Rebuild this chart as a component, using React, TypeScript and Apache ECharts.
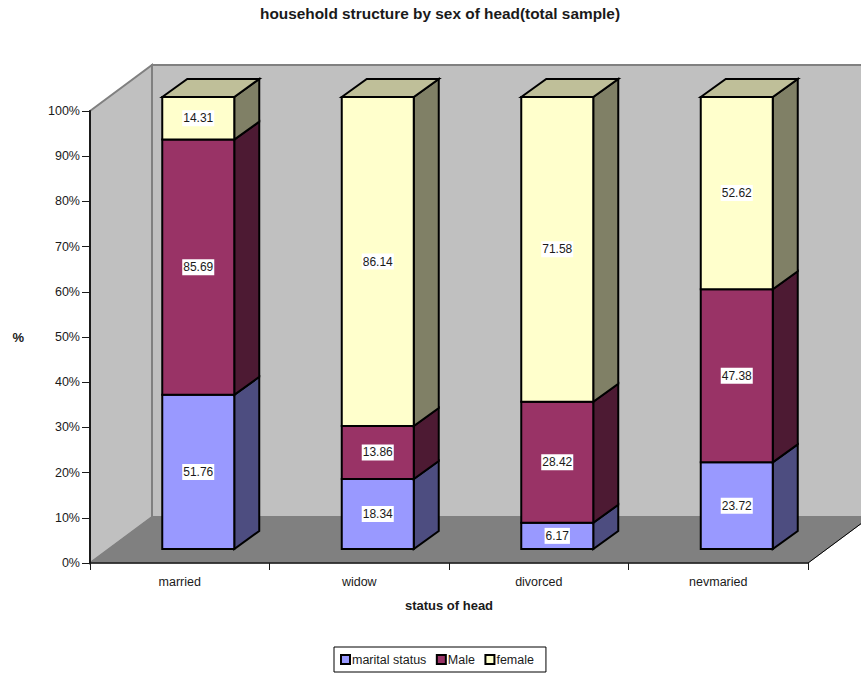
import React, { useEffect, useRef } from "react";
import * as echarts from "echarts";

const categories = ["married", "widow", "divorced", "nevmaried"];
const maritalStatus = [51.76, 18.34, 6.17, 23.72];
const male = [85.69, 13.86, 28.42, 47.38];
const female = [14.31, 86.14, 71.58, 52.62];
const yTicks = [0, 10, 20, 30, 40, 50, 60, 70, 80, 90, 100];

const FONT = "Liberation Sans, Arial, sans-serif";
const INK = "#1a1a1a";
const stacks = [maritalStatus, male, female];
const totals = categories.map((_, i) => stacks.reduce((sum, s) => sum + s[i], 0));

// Each row: category index, lower share, upper share, value as labelled.
function segmentRows(layer: number) {
  return categories.map((_, i) => {
    const below = stacks.slice(0, layer).reduce((sum, s) => sum + s[i], 0);
    return [
      i,
      (below / totals[i]) * 100,
      ((below + stacks[layer][i]) / totals[i]) * 100,
      stacks[layer][i],
    ];
  });
}

// Oblique projection of the chart box and of the columns inside it.
const BOX_DX = 62;
const BOX_DY = -46;
const BAR_SHIFT_X = 18.5;
const BAR_SHIFT_Y = -14;
const BAR_DX = 25;
const BAR_DY = -18;
const BAR_WIDTH = 72;

function renderBox(_params: any, api: any) {
  const band = api.size([1, 0])[0];
  const left = api.coord([0, 0])[0] - band / 2;
  const right = left + band * categories.length;
  const bottom = api.coord([0, 0])[1];
  const top = api.coord([0, 100])[1];
  const wall = { fill: "#c0c0c0", stroke: "#808080", lineWidth: 2 };
  const poly = (points: number[][], style: any) => ({
    type: "polygon",
    shape: { points },
    style,
  });
  return {
    type: "group",
    children: [
      poly(
        [
          [left + BOX_DX, top + BOX_DY],
          [right + BOX_DX, top + BOX_DY],
          [right + BOX_DX, bottom + BOX_DY],
          [left + BOX_DX, bottom + BOX_DY],
        ],
        wall
      ),
      poly(
        [
          [left, top],
          [left + BOX_DX, top + BOX_DY],
          [left + BOX_DX, bottom + BOX_DY],
          [left, bottom],
        ],
        wall
      ),
      poly(
        [
          [left, bottom],
          [left + BOX_DX, bottom + BOX_DY],
          [right + BOX_DX, bottom + BOX_DY],
          [right, bottom],
        ],
        { fill: "#808080", stroke: "#808080", lineWidth: 1 }
      ),
      {
        type: "line",
        shape: { x1: right, y1: bottom, x2: right + BOX_DX, y2: bottom + BOX_DY },
        style: { stroke: "#000", lineWidth: 1 },
      },
    ],
  };
}

function makeRenderer(front: string, side: string, cap: string | null) {
  return (_params: any, api: any) => {
    const cx = api.coord([api.value(0), 0])[0] + BAR_SHIFT_X;
    const y0 = api.coord([0, api.value(1)])[1] + BAR_SHIFT_Y;
    const y1 = api.coord([0, api.value(2)])[1] + BAR_SHIFT_Y;
    const x0 = cx - BAR_WIDTH / 2;
    const x1 = cx + BAR_WIDTH / 2;
    const edge = { stroke: "#000", lineWidth: 2, lineJoin: "miter" };
    const children: any[] = [
      {
        type: "polygon",
        shape: {
          points: [
            [x1, y1],
            [x1 + BAR_DX, y1 + BAR_DY],
            [x1 + BAR_DX, y0 + BAR_DY],
            [x1, y0],
          ],
        },
        style: { fill: side, ...edge },
      },
    ];
    if (cap) {
      children.push({
        type: "polygon",
        shape: {
          points: [
            [x0, y1],
            [x0 + BAR_DX, y1 + BAR_DY],
            [x1 + BAR_DX, y1 + BAR_DY],
            [x1, y1],
          ],
        },
        style: { fill: cap, ...edge },
      });
    }
    children.push({
      type: "rect",
      shape: { x: x0, y: y1, width: BAR_WIDTH, height: y0 - y1 },
      style: { fill: front, ...edge },
    });
    children.push({
      type: "text",
      x: cx,
      y: (y0 + y1) / 2,
      z2: 10,
      style: {
        text: api.value(3).toFixed(2),
        align: "center",
        verticalAlign: "middle",
        font: `12px ${FONT}`,
        fill: INK,
        backgroundColor: "#fff",
        padding: [2, 1, 2, 1],
      },
    });
    return { type: "group", children };
  };
}

const layers = [
  { name: "marital status", front: "#9999ff", side: "#4d4d80", cap: null },
  { name: "Male", front: "#993366", side: "#4d1a33", cap: null },
  { name: "female", front: "#ffffcc", side: "#808066", cap: "#bfbf99" },
];

export default function App() {
  const ref = useRef<HTMLDivElement>(null);

  useEffect(() => {
    const chart = echarts.init(ref.current!, undefined, { renderer: "svg" });
    chart.setOption({
      animation: false,
      backgroundColor: "#fff",
      title: {
        text: "household structure by sex of head(total sample)",
        left: 435,
        top: 1,
        textAlign: "center",
        textStyle: { fontFamily: FONT, fontSize: 15.4, fontWeight: "bold", color: INK },
      },
      grid: { left: 90, top: 111, width: 718, height: 452 },
      xAxis: {
        type: "category",
        data: categories,
        name: "status of head",
        nameLocation: "middle",
        nameGap: 36,
        nameTextStyle: { fontFamily: FONT, fontSize: 13, fontWeight: "bold", color: INK },
        axisLine: { show: true, lineStyle: { color: INK, width: 1.5 } },
        axisTick: { show: true, length: 7, lineStyle: { color: INK, width: 1 } },
        axisLabel: { fontFamily: FONT, fontSize: 12.5, color: INK, margin: 12 },
        splitLine: { show: false },
      },
      yAxis: {
        type: "value",
        min: yTicks[0],
        max: yTicks[yTicks.length - 1],
        interval: 10,
        name: "%",
        nameLocation: "middle",
        nameRotate: 0,
        nameGap: 66,
        nameTextStyle: { fontFamily: FONT, fontSize: 13, fontWeight: "bold", color: INK },
        axisLine: { show: true, lineStyle: { color: INK, width: 2 } },
        axisTick: { show: true, length: 8, lineStyle: { color: INK, width: 1 } },
        axisLabel: {
          fontFamily: FONT,
          fontSize: 12.5,
          color: INK,
          margin: 10,
          formatter: "{value}%",
        },
        splitLine: { show: false },
      },
      legend: {
        left: 334,
        top: 647,
        orient: "horizontal",
        data: layers.map((l) => l.name),
        icon: "rect",
        itemWidth: 9,
        itemHeight: 9,
        itemGap: 9.5,
        padding: [6, 12, 6, 6],
        borderColor: "#000",
        borderWidth: 1,
        backgroundColor: "#fff",
        selectedMode: false,
        itemStyle: { borderColor: "#000", borderWidth: 2 },
        textStyle: { fontFamily: FONT, fontSize: 12.5, color: INK, padding: [0, 0, 0, -3] },
      },
      series: [
        {
          type: "custom",
          name: "box",
          silent: true,
          z: -1,
          coordinateSystem: "cartesian2d",
          data: [[0, 0]],
          renderItem: renderBox,
        },
        ...layers.map((l, layer) => ({
          type: "custom",
          name: l.name,
          z: 2 + layer,
          coordinateSystem: "cartesian2d",
          itemStyle: { color: l.front },
          encode: { x: 0, y: [1, 2] },
          data: segmentRows(layer),
          renderItem: makeRenderer(l.front, l.side, l.cap),
        })),
      ],
    });
    return () => chart.dispose();
  }, []);

  return (
    <div
      ref={ref}
      style={{ position: "absolute", left: 0, top: 0, width: 861, height: 673 }}
    />
  );
}
